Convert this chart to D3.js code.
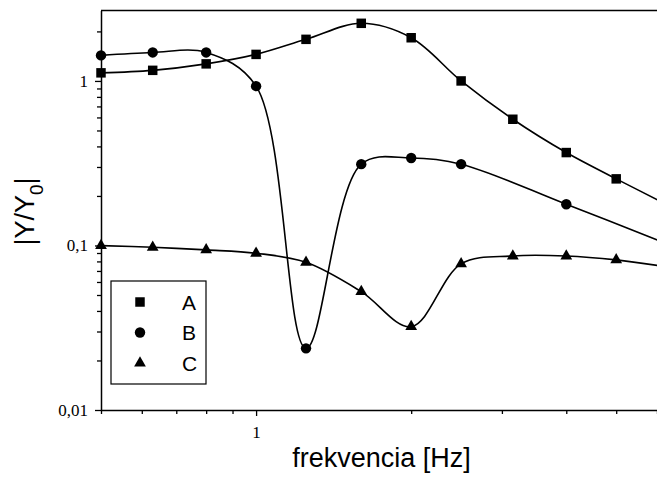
<!DOCTYPE html>
<html>
<head>
<meta charset="utf-8">
<script src="https://cdn.jsdelivr.net/npm/d3@7"></script>
<style>
  body { margin: 0; background: #fff; }
  svg { display: block; }
</style>
</head>
<body>
<svg id="chart"></svg>
<script>
// frequencies [Hz] (last one lies just past the right edge, only the curve reaches it)
const freq = [0.5, 0.63, 0.8, 1.0, 1.25, 1.6, 2.0, 2.5, 3.15, 4.0, 5.0, 6.3];
const seriesA = [1.12, 1.16, 1.27, 1.45, 1.79, 2.24, 1.83, 1.0, 0.585, 0.367, 0.254, 0.176];
const seriesB = [1.43, 1.49, 1.49, 0.93, 0.0237, 0.312, 0.340, 0.312, null, 0.178, null, 0.102];
const seriesC = [0.0998, 0.0975, 0.094, 0.0897, 0.079, 0.0524, 0.0321, 0.0773, 0.0863, 0.0863, 0.0817, 0.074];
const seriesNames = ["A", "B", "C"];
const yTickLabels = { 1: "1", 0.1: "0,1", 0.01: "0,01" };
const xTickLabels = { 1: "1" };

const width = 657, height = 477;

const svg = d3.select("#chart")
  .attr("width", width)
  .attr("height", height)
  .style("background", "#fff");

const x = d3.scaleLog().domain([0.5, 6]).range([101, 657]);
const y = d3.scaleLog().domain([0.01, 2.68]).range([410, 10.5]);

svg.append("clipPath").attr("id", "plot")
  .append("rect")
  .attr("x", x.range()[0]).attr("y", y.range()[1])
  .attr("width", x.range()[1] - x.range()[0])
  .attr("height", y.range()[0] - y.range()[1]);

// log ticks 1..9 per decade
const xTicks = [];
[0.1, 1].forEach(d => d3.range(1, 10).forEach(m => {
  const v = +(d * m).toPrecision(3);
  if (v >= 0.5 && v <= 6) xTicks.push(v);
}));
const yTicks = [];
[0.01, 0.1, 1].forEach(d => d3.range(1, 10).forEach(m => {
  const v = +(d * m).toPrecision(3);
  if (v <= 2.68) yTicks.push(v);
}));

// x axis
const gx = svg.append("g")
  .attr("transform", `translate(0,${y.range()[0]})`)
  .call(d3.axisBottom(x)
    .tickValues(xTicks)
    .tickSizeInner(4)
    .tickSizeOuter(0)
    .tickPadding(12)
    .tickFormat(d => xTickLabels[d] || ""));
gx.selectAll(".tick line").attr("y2", d => xTickLabels[d] ? 6 : 4);
gx.selectAll("text")
  .attr("fill", "#000")
  .style("font-family", "'Liberation Serif', serif")
  .style("font-size", "17px");

// y axis
const gy = svg.append("g")
  .attr("transform", `translate(${x.range()[0]},0)`)
  .call(d3.axisLeft(y)
    .tickValues(yTicks)
    .tickSizeInner(4)
    .tickSizeOuter(0)
    .tickPadding(9)
    .tickFormat(d => yTickLabels[d] || ""));
gy.selectAll(".tick line").attr("x2", d => yTickLabels[d] ? -6 : -4);
gy.selectAll("text")
  .attr("fill", "#000")
  .style("font-family", "'Liberation Serif', serif")
  .style("font-size", "17px");

svg.selectAll(".domain").attr("stroke-width", 1.5);
svg.selectAll(".tick line").attr("stroke-width", 1.3);

// top frame line
svg.append("line")
  .attr("x1", x.range()[0]).attr("x2", x.range()[1])
  .attr("y1", y.range()[1]).attr("y2", y.range()[1])
  .attr("stroke", "#000").attr("stroke-width", 1.5);

// curves and markers
const symbols = [d3.symbolSquare, d3.symbolCircle, d3.symbolTriangle];
const symSizes = [90, 85, 60];
const allSeries = [seriesA, seriesB, seriesC];

const line = d3.line()
  .x(d => x(d.f))
  .y(d => y(d.v))
  .curve(d3.curveCatmullRom.alpha(0.5));

allSeries.forEach((vals, i) => {
  const pts = freq.map((f, j) => ({ f, v: vals[j] })).filter(d => d.v != null);
  svg.append("path")
    .datum(pts)
    .attr("clip-path", "url(#plot)")
    .attr("fill", "none")
    .attr("stroke", "#000")
    .attr("stroke-width", 1.6)
    .attr("d", line);
  svg.append("g").selectAll("path")
    .data(pts.filter(d => d.f <= 6))
    .enter().append("path")
    .attr("d", d3.symbol().type(symbols[i]).size(symSizes[i]))
    .attr("transform", d => `translate(${x(d.f)},${y(d.v)})`)
    .attr("fill", "#000");
});

// legend
const legend = svg.append("g");
legend.append("rect")
  .attr("x", 111).attr("y", 281)
  .attr("width", 95).attr("height", 103)
  .attr("fill", "#fff").attr("stroke", "#000").attr("stroke-width", 1.2);
seriesNames.forEach((name, i) => {
  const ry = 302 + i * 30.5;
  legend.append("path")
    .attr("d", d3.symbol().type(symbols[i]).size(symSizes[i]))
    .attr("transform", `translate(140,${ry})`)
    .attr("fill", "#000");
  legend.append("text")
    .attr("x", 182).attr("y", ry + 7.5)
    .style("font-family", "'Liberation Sans', Arial, sans-serif")
    .style("font-size", "21px")
    .text(name);
});

// axis titles
svg.append("text")
  .attr("x", 381.5).attr("y", 467)
  .attr("text-anchor", "middle")
  .style("font-family", "'Liberation Sans', Arial, sans-serif")
  .style("font-size", "27px")
  .text("frekvencia [Hz]");

const yl = svg.append("text")
  .attr("transform", "translate(33.5,211.5) rotate(-90)")
  .attr("text-anchor", "middle")
  .style("font-family", "'Liberation Sans', Arial, sans-serif")
  .style("font-size", "27px");
yl.append("tspan").text("|Y/Y");
yl.append("tspan").attr("dy", 9).style("font-size", "19px").text("0");
yl.append("tspan").attr("dy", -9).text("|");
</script>
</body>
</html>
